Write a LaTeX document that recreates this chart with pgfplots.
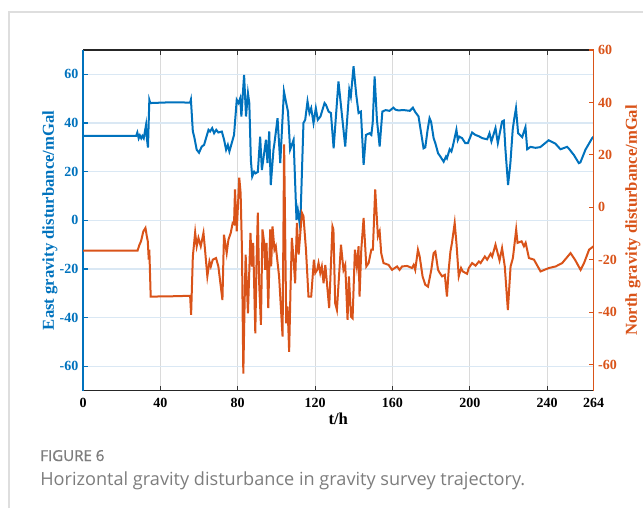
\documentclass[border=0pt]{standalone}
\usepackage{fontspec}
\setmainfont{Liberation Serif}
\newfontfamily\capfont{Open Sans}
\newfontfamily\capfontsb[FakeBold=1.2]{Open Sans}
\usepackage{pgfplots}
\pgfplotsset{compat=1.18}

\definecolor{eastblue}{RGB}{0,114,189}
\definecolor{northred}{RGB}{217,83,25}
\definecolor{hgrid}{RGB}{218,232,244}
\definecolor{vgrid}{RGB}{218,218,218}
\definecolor{capgray}{RGB}{125,125,125}
\definecolor{framegray}{RGB}{222,222,222}

\tikzset{glabel/.style={font=\fontsize{12.5}{14}\selectfont\bfseries}}
\pgfplotsset{
  gravbase/.style={
    at={(62.25pt,88pt)}, anchor=south west,
    scale only axis, width=382.9pt, height=255.5pt,
    xmin=0, xmax=264,
    tick align=inside, major tick length=3.5pt,
    ticklabel style={font=\fontsize{10.5}{12}\selectfont\bfseries},
  },
}

\begin{document}
\begin{tikzpicture}[x=1pt,y=1pt]
\useasboundingbox (0,0) rectangle (482.25,381);
\draw[framegray, line width=1.1pt] (6.75,0) -- (6.75,372) -- (482.25,372);
\node[anchor=base west, inner sep=0, text=capgray,
      font=\capfontsb\fontsize{11.3}{13}\selectfont] at (30,35.25) {FIGURE 6};
\node[anchor=base west, inner sep=0, text=capgray,
      font=\capfont\fontsize{13.6}{15}\selectfont] at (30,17.25)
      {Horizontal gravity disturbance in gravity survey trajectory.};

% left axis: east component
\begin{axis}[gravbase,
    ymin=-70, ymax=70,
    xtick={0,40,80,120,160,200,240,264},
    xticklabels={0,40,80,120,160,200,240,264},
    ytick={-60,-40,-20,0,20,40,60},
    yticklabels={-60,-40,-20,0,20,40,60},
    xtick pos=both, xticklabel pos=lower, ytick pos=left,
    xticklabel style={yshift=-2pt},
    xmajorgrids, ymajorgrids,
    x grid style={vgrid, line width=0.8pt},
    y grid style={hgrid, line width=0.8pt},
    separate axis lines,
    x axis line style={black!85, line width=0.9pt},
    y axis line style={eastblue, line width=1.3pt},
    xtick style={black!80, line width=0.8pt},
    ytick style={eastblue, line width=0.8pt},
    yticklabel style={text=eastblue},
    xlabel={t/h}, ylabel={East gravity disturbance/mGal},
    every axis x label/.style={glabel, at={(axis description cs:0.5,-0.082)}, anchor=center},
    every axis y label/.style={glabel, at={(axis description cs:-0.0646,0.5)}, rotate=90, anchor=center, text=eastblue},
  ]
\addplot[eastblue, line width=1.5pt] coordinates {
(0,34.7) (27.5,34.7) (28.1,36.1) (28.8,33.7) (29.4,34.9) (30.1,33.7) (30.7,34.7) (31.4,33.7)
(32.6,39.2) (33,33.8) (33.6,29.9) (34.3,49.5) (34.8,48.2) (45,48.5) (55.4,48.4) (55.8,49.6)
(56.8,36.5) (57.5,34.4) (58.8,29) (60,27.8) (61.4,30.3) (62.6,31) (64.9,37.2) (65.7,36.5)
(66.8,37.9) (67.8,35.8) (68.9,37.2) (70,36.1) (71.8,36.5) (73,33) (74,29) (74.9,31) (75.7,28.3)
(76.9,31.7) (78.1,35.1) (79.5,49.5) (80.4,48.2) (81.3,50.2) (81.9,42.7) (83.3,59.8) (84.3,42.7)
(85.3,52.3) (86,48.2) (86.8,24.8) (87.5,18) (88.5,20) (89.2,19.3) (90.4,19.9) (91.6,34.4)
(92.5,20.7) (94.6,33.1) (95.4,23.5) (96.3,36.5) (97.1,14.5) (98.5,29) (99,31.7) (100.6,42)
(102,23.5) (103.9,53) (104.9,48.9) (106,44.7) (107.1,29) (108.9,33.1) (110.4,0.1) (111.1,4.2)
(112,-1.2) (112.6,4.2) (114,40) (114.9,41.3) (116.1,48.9) (117.1,44.1) (118,46.1) (119.2,40)
(120.4,46.1) (121.4,41.3) (122.8,42.7) (124.9,48.2) (125.6,47.5) (127,44.7) (128.2,44.1)
(129.6,29.6) (132.1,57.1) (135.6,30.3) (137.7,53.7) (138.5,50.9) (139.9,63.3) (141.3,51.6)
(142.5,44.1) (143.7,44.7) (145.1,22.8) (146.3,35.1) (148.2,35.8) (149.1,35.1) (149.8,40)
(150.8,59.1) (152,41.3) (153.4,30.3) (154.8,44.7) (156.5,45.3) (158.5,45) (160.5,46.3)
(161.5,45.5) (163,45.2) (166,45.3) (169,45) (170.6,46.3) (171.8,44.5) (173.5,42.7) (176.1,29.6)
(177,30) (178.2,37.2) (179.2,42) (180,40.5) (181.3,33.8) (182.2,31.7) (183.6,27.6) (184.8,26.2)
(186.5,24.1) (187.7,26.2) (188.2,25.5) (189.6,29.2) (190.5,28.3) (191.2,30.3) (193.1,37.2)
(193.8,33) (194.6,34.4) (196,33.8) (197.7,31.7) (199,31.7) (201.2,36.1) (202.9,35.1) (204.6,34.6)
(206.4,33.8) (209,33.3) (210.2,35.8) (211.2,32.4) (213.3,37.9) (214.5,31.7) (216.7,40.6)
(217.6,41) (218.4,29.6) (219.8,14.5) (221,23.5) (222.2,37.2) (222.9,41.3) (223.9,46.1) (225,35.8)
(227.1,34.2) (228.8,38.3) (229.7,29.2) (231.4,30.2) (234,29.8) (236.5,30.1) (240,32.4)
(240.8,32.9) (244.3,31.5) (246.9,29.2) (250.3,30.2) (251.2,29.5) (253.8,26.9) (256.4,23.5)
(257.2,23.8) (259.8,29) (263.3,33.8) (264,34.4)
};
\end{axis}

% right axis: north component
\begin{axis}[gravbase,
    ymin=-70, ymax=60,
    axis x line=none, axis y line*=right,
    ytick={-60,-40,-20,0,20,40,60},
    yticklabels={-60,-40,-20,0,20,40,60},
    y axis line style={northred, line width=1.3pt},
    ytick style={northred, line width=0.8pt},
    yticklabel style={text=northred},
    ylabel={North gravity disturbance/mGal},
    every axis y label/.style={glabel, at={(axis description cs:1.0774,0.5)}, rotate=90, anchor=center, text=northred},
  ]
\addplot[northred, line width=1.5pt] coordinates {
(0,-16.6) (28.2,-16.6) (29.2,-14.3) (30,-13) (31.2,-9.2) (32.3,-7.9) (33,-11.1) (33.5,-13)
(34,-20) (34.3,-16.2) (35,-34.1) (45,-34) (55.4,-33.8) (55.9,-41.1) (56.8,-18.8) (58,-9.6)
(58.8,-14.9) (59.7,-11.7) (60.9,-14.9) (62.3,-9.8) (63.1,-16.2) (64.3,-26.4) (65.4,-20.7)
(66.1,-22.6) (67.1,-20) (68.8,-19.4) (70,-22.6) (72.1,-35.4) (72.9,-10.5) (74.3,-17.5)
(75.2,-12.4) (76.4,-9.8) (77.4,-6) (78.1,-6.4) (78.6,6.8) (79.5,-9.2) (80.8,11.3) (81.5,5.5)
(82.2,-16.2) (82.9,-63.5) (83.6,-35.4) (84.1,-18.1) (85.3,-40.5) (86.6,-9.8) (87.3,-22.6)
(88,-13.6) (89.1,-48.1) (89.7,-22.6) (90.4,-2.1) (91.1,-29) (92,-44.9) (92.8,-8.5) (93.7,-13.6)
(94.2,-23.9) (94.9,-13.6) (95.8,-38.5) (96.8,-8.5) (97.3,-22.6) (98,-7.3) (99,-16.2) (99.7,-14.9)
(101.4,-26.4) (103.2,-49.4) (104,24) (105.1,-44.3) (105.8,-37.9) (106.6,-55.2) (107.3,-31.5)
(108,-11.7) (108.9,-20) (109.7,-29) (110.6,-6) (111.5,-18.1) (113.2,-2.1) (114,-3.4)
(115.3,-16.2) (116.6,-34.1) (118,-34.1) (119.4,-20) (120.1,-25.1) (121.1,-23.9) (121.8,-21.3)
(122.7,-25.1) (123.5,-22.6) (124.4,-29) (125.3,-22) (127.3,-38.5) (129,-7.3) (129.5,-8.5)
(130.4,-36.6) (131.3,-39.2) (133.4,-14.3) (134.7,-23.9) (135.6,-22) (136.8,-43) (137.5,-26.4)
(138.6,-41.8) (139.4,-42.4) (140.6,-16.2) (141.6,-22.6) (142.5,-14.9) (143,-34.1) (143.9,-16.2)
(145.1,-4.1) (146.5,-22.6) (147.7,-21.3) (149.1,-16.2) (149.9,-16.2) (151.1,6.8) (152.5,-11.1)
(153.4,-9.2) (154.2,-17.5) (155.4,-21.3) (158,-22) (159.8,-23.9) (162.4,-22.6) (163.7,-23.9)
(165,-22.6) (167.6,-22.4) (170.1,-23.2) (171,-22) (171.8,-23.9) (173.2,-16.2) (174.1,-18.8)
(175.6,-26.4) (177,-29.6) (178.4,-30.3) (180.1,-23.9) (181.3,-17.5) (182.2,-16.9) (183.6,-23.9)
(184.5,-25.1) (185.7,-26.4) (187.1,-25.8) (188.2,-34.1) (189.1,-23.9) (190,-16.9) (190.8,-13.6)
(192.2,-6) (193.1,-13.6) (194.3,-26.4) (195.5,-23.2) (196.4,-24.5) (198.6,-25.4) (199.5,-23.2)
(201.2,-21.3) (203,-22.3) (204.7,-20.7) (205.6,-21.3) (207.8,-18.8) (209,-20) (210.8,-17.7)
(211.6,-18.8) (213.3,-14.3) (215.4,-20.3) (216.7,-15.6) (218.1,-22.6) (219.7,-39.2) (221.1,-22.6)
(222.3,-19.4) (224,-8.5) (224.7,-13.6) (226.8,-13) (228,-14.9) (228.9,-13.6) (230.6,-19.4)
(233.2,-20) (236.6,-24.5) (240.9,-23.2) (244.4,-22.6) (247.8,-21.3) (252.1,-17.5) (254.4,-20)
(257.3,-23.9) (259.1,-21.3) (261.7,-16.2) (264,-14.9)
};
\end{axis}
\end{tikzpicture}
\end{document}
